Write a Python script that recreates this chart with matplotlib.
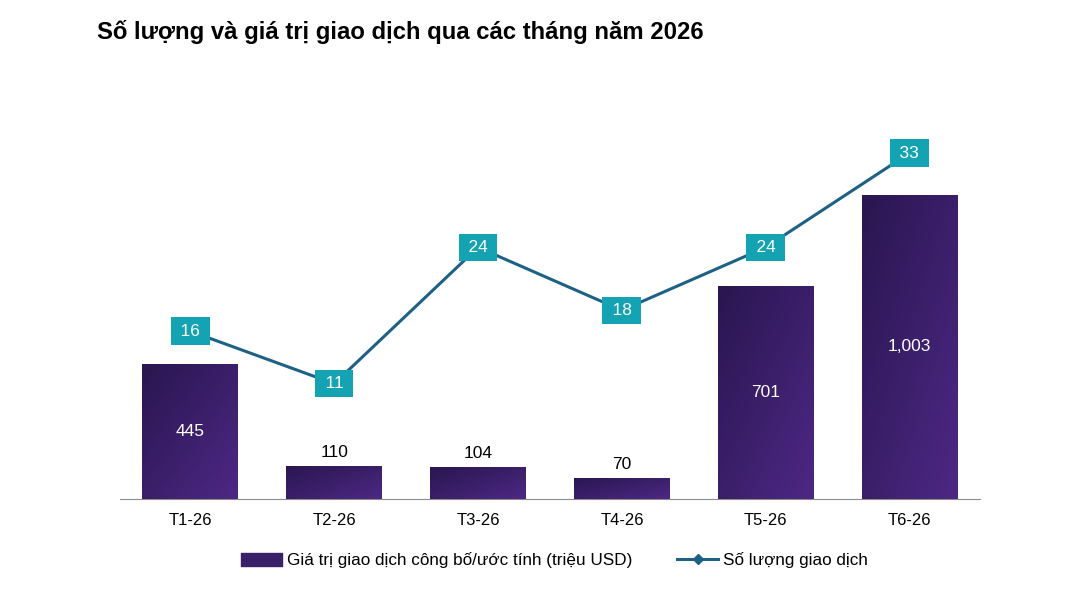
import matplotlib.pyplot as plt
import numpy as np
from matplotlib.colors import LinearSegmentedColormap
from matplotlib.lines import Line2D
from matplotlib.patches import Patch

plt.rcParams['font.family'] = ['Liberation Sans', 'DejaVu Sans']

# du lieu
thang = ["T1-26", "T2-26", "T3-26", "T4-26", "T5-26", "T6-26"]
gia_tri = [445, 110, 104, 70, 701, 1003]
so_luong = [16, 11, 24, 18, 24, 33]

x = np.arange(len(thang))
fig = plt.figure(figsize=(10.77, 5.98), dpi=100)
ax = fig.add_axes([0.1114, 0.1656, 0.7985, 0.667])
ax2 = ax.twinx()

cmap = LinearSegmentedColormap.from_list("tim", ["#2a1650", "#4c2884"])
bars = ax.bar(x, gia_tri, width=0.667, color="#3a2068", zorder=2)
# to mau gradient cho cot (tren-trai toi, duoi-phai sang)
grad = np.add.outer(np.linspace(0, 1, 50), np.linspace(0, 1, 50)) / 2
for b in bars:
    x0, y0 = b.get_x(), b.get_y()
    im = ax.imshow(grad, cmap=cmap, extent=[x0, x0 + b.get_width(), y0, y0 + b.get_height()],
                   origin="upper", aspect="auto", zorder=3)
    im.set_clip_path(b)
ax.set_xlim(-0.49, 5.49)
ax.set_ylim(0, 1315)

for i, v in enumerate(gia_tri):
    if v > 300:
        ax.text(i, v / 2, f"{v:,}", ha="center", va="center", color="white", fontsize=12.5, zorder=4)
    else:
        ax.text(i, v + 20, f"{v:,}", ha="center", va="bottom", color="black", fontsize=12.5, zorder=4)

ax2.plot(x, so_luong, color="#1d6184", lw=2.2, zorder=5)
ax2.set_ylim(0, 38.05)
for i, v in enumerate(so_luong):
    ax2.text(i, v, f"\u2009{v}\u2009", ha="center", va="center", color="white", fontsize=12.5, zorder=6,
             bbox=dict(boxstyle="square,pad=0.36", fc="#13a3b2", ec="none"))

for a in (ax, ax2):
    for s in ["top", "right", "left"]:
        a.spines[s].set_visible(False)
    a.set_yticks([])
ax2.spines["bottom"].set_visible(False)
ax.spines["bottom"].set_color("#8c8c8c")
ax.set_xticks(x)
ax.set_xticklabels(thang, fontsize=12)
ax.tick_params(axis="x", length=0, pad=10)

fig.text(0.09, 0.947, "Số lượng và giá trị giao dịch qua các tháng năm 2026",
         fontsize=17.2, fontweight="bold", ha="left", va="center")

handles = [Patch(color="#3a2068"),
           Line2D([0], [0], color="#1d6184", lw=2.2, marker="D", markersize=5)]
fig.legend(handles, ["Giá trị giao dịch công bố/ước tính (triệu USD)", "Số lượng giao dịch"],
           loc="center", bbox_to_anchor=(0.515, 0.063), ncol=2, frameon=False, fontsize=12.3,
           handlelength=2.4, handletextpad=0.3, columnspacing=2.6, handleheight=0.8)

fig.savefig("out.png", dpi=100)
